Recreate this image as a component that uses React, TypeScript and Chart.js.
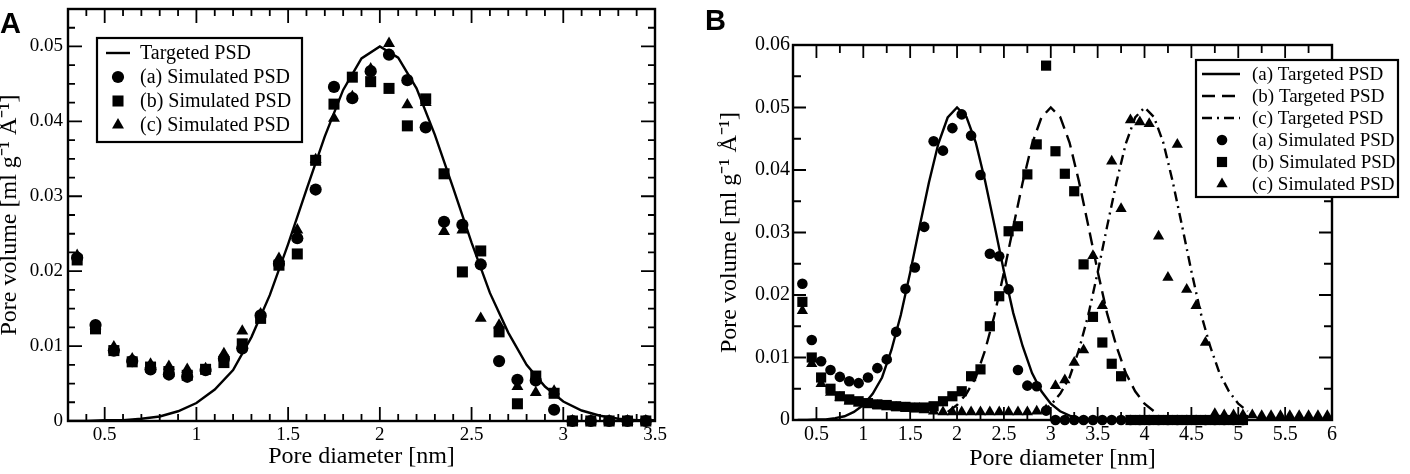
import React, { useEffect, useRef } from "react";
import { Chart, registerables } from "chart.js";

Chart.register(...registerables);

const SERIF = '"Liberation Serif", "Times New Roman", Times, serif';
const SANS = '"Liberation Sans", Arial, Helvetica, sans-serif';

// ---------- Panel A: one targeted PSD, three simulated PSDs ----------
const poreA = [
  0.35, 0.45, 0.55, 0.65, 0.75, 0.85, 0.95, 1.05, 1.15, 1.25, 1.35, 1.45, 1.55, 1.65, 1.75, 1.85,
  1.95, 2.05, 2.15, 2.25, 2.35, 2.45, 2.55, 2.65, 2.75, 2.85, 2.95, 3.05, 3.15, 3.25, 3.35, 3.45,
];
const simA_a = [
  0.0218, 0.0128, 0.0094, 0.008, 0.0069, 0.0062, 0.0059, 0.0068, 0.0083, 0.0097, 0.0141, 0.021,
  0.0244, 0.0309, 0.0446, 0.0431, 0.0467, 0.0489, 0.0455, 0.0392, 0.0266, 0.0262, 0.0209, 0.008,
  0.0055, 0.0054, 0.0015, 0, 0, 0, 0, 0,
];
const simA_b = [
  0.0215, 0.0123, 0.0094, 0.0079, 0.0072, 0.0066, 0.0061, 0.0069, 0.0078, 0.0103, 0.0137, 0.0208,
  0.0223, 0.0348, 0.0423, 0.0459, 0.0453, 0.0444, 0.0394, 0.043, 0.033, 0.0199, 0.0227, 0.0119,
  0.0023, 0.006, 0.0037, 0, 0, 0, 0, 0,
];
const simA_c = [
  0.0221, 0.0127, 0.0099, 0.0083, 0.0076, 0.0073, 0.0069, 0.007, 0.009, 0.012, 0.0143, 0.0217,
  0.0255, 0.0349, 0.0404, 0.0433, 0.047, 0.0504, 0.0422, 0.0425, 0.0253, 0.0255, 0.0137, 0.0128,
  0.0046, 0.0038, 0.004, 0, 0, 0, 0, 0,
];
const targetA_x = [
  0.3, 0.4, 0.5, 0.6, 0.7, 0.8, 0.9, 1.0, 1.1, 1.2, 1.3, 1.4, 1.5, 1.6, 1.7, 1.8, 1.9, 2.0, 2.1,
  2.2, 2.3, 2.4, 2.5, 2.6, 2.7, 2.8, 2.9, 3.0, 3.1, 3.2, 3.3, 3.4, 3.5,
];
const targetA_y = [
  0, 0, 0.0001, 0.0001, 0.0003, 0.0006, 0.0013, 0.0024, 0.0042, 0.0068, 0.0112, 0.0168, 0.0236,
  0.0309, 0.038, 0.0442, 0.0484, 0.05, 0.0485, 0.0444, 0.0382, 0.0311, 0.0238, 0.0171, 0.0118,
  0.0075, 0.0046, 0.0026, 0.0014, 0.0007, 0.0003, 0.0001, 0.0001,
];
const xTicksA = [0.5, 1, 1.5, 2, 2.5, 3, 3.5];
const yTicksA = [0, 0.01, 0.02, 0.03, 0.04, 0.05];

// ---------- Panel B: three targeted PSDs with their simulations ----------
const poreB = [
  0.35, 0.45, 0.55, 0.65, 0.75, 0.85, 0.95, 1.05, 1.15, 1.25, 1.35, 1.45, 1.55, 1.65, 1.75, 1.85,
  1.95, 2.05, 2.15, 2.25, 2.35, 2.45, 2.55, 2.65, 2.75, 2.85, 2.95, 3.05, 3.15, 3.25, 3.35, 3.45,
  3.55, 3.65, 3.75, 3.85, 3.95, 4.05, 4.15, 4.25, 4.35, 4.45, 4.55, 4.65, 4.75, 4.85, 4.95, 5.05,
];
const simB_a = [
  0.0218, 0.0128, 0.0094, 0.008, 0.0069, 0.0062, 0.0059, 0.0068, 0.0083, 0.0097, 0.0141, 0.021,
  0.0244, 0.0309, 0.0446, 0.0431, 0.0467, 0.0489, 0.0455, 0.0392, 0.0266, 0.0262, 0.0209, 0.008,
  0.0055, 0.0054, 0.0015, 0, 0, 0, 0, 0, 0, 0, 0, 0, 0, 0, 0, 0, 0, 0, 0, 0, 0, 0, 0, 0,
];
const simB_b = [
  0.0189, 0.01, 0.0068, 0.005, 0.0038, 0.0033, 0.003, 0.0027, 0.0025, 0.0024, 0.0022, 0.0021,
  0.002, 0.002, 0.0022, 0.003, 0.0038, 0.0046, 0.007, 0.0081, 0.015, 0.0198, 0.0302, 0.031,
  0.0393, 0.0441, 0.0567, 0.043, 0.0394, 0.0366, 0.0249, 0.0165, 0.0124, 0.009, 0.007, 0, 0, 0,
  0, 0, 0, 0, 0, 0, 0, 0, 0, 0,
];
const poreB_c = [
  0.35, 0.45, 0.55, 0.65, 0.75, 0.85, 0.95, 1.05, 1.15, 1.25, 1.35, 1.45, 1.55, 1.65, 1.75, 1.85,
  1.95, 2.05, 2.15, 2.25, 2.35, 2.45, 2.55, 2.65, 2.75, 2.85, 2.95, 3.05, 3.15, 3.25, 3.35, 3.45,
  3.55, 3.65, 3.75, 3.85, 3.95, 4.05, 4.15, 4.25, 4.35, 4.45, 4.55, 4.65, 4.75, 4.85, 4.95, 5.05,
  5.15, 5.25, 5.35, 5.45, 5.55, 5.65, 5.75, 5.85, 5.95,
];
const simB_c = [
  0.0175, 0.009, 0.0058, 0.0044, 0.0036, 0.003, 0.0027, 0.0025, 0.0023, 0.0021, 0.002, 0.0019,
  0.0018, 0.0016, 0.0014, 0.0013, 0.0013, 0.0013, 0.0013, 0.0013, 0.0013, 0.0013, 0.0013, 0.0013,
  0.0013, 0.0014, 0.0016, 0.0055, 0.0064, 0.0092, 0.0112, 0.0263, 0.0183, 0.0414, 0.0338, 0.048,
  0.0477, 0.0474, 0.0294, 0.0228, 0.0441, 0.0209, 0.0183, 0.0124, 0.001, 0.0008, 0.0008, 0.0008,
  0.0008, 0.0007, 0.0007, 0.0007, 0.0007, 0.0007, 0.0007, 0.0007, 0.0007,
];
const targetB_a_x = [
  0.3, 0.4, 0.5, 0.6, 0.7, 0.8, 0.9, 1.0, 1.1, 1.2, 1.3, 1.4, 1.5, 1.6, 1.7, 1.8, 1.9, 2.0, 2.1,
  2.2, 2.3, 2.4, 2.5, 2.6, 2.7, 2.8, 2.9, 3.0, 3.1, 3.2, 3.3, 3.4, 3.5,
];
const targetB_a_y = [
  0, 0, 0.0001, 0.0001, 0.0003, 0.0006, 0.0013, 0.0024, 0.0042, 0.0068, 0.0112, 0.0168, 0.0236,
  0.0309, 0.038, 0.0442, 0.0484, 0.05, 0.0485, 0.0444, 0.0382, 0.0311, 0.0238, 0.0171, 0.0118,
  0.0075, 0.0046, 0.0026, 0.0014, 0.0007, 0.0003, 0.0001, 0.0001,
];
const targetB_b_x = [
  1.9, 2.0, 2.1, 2.2, 2.3, 2.4, 2.5, 2.6, 2.7, 2.8, 2.9, 3.0, 3.1, 3.2, 3.3, 3.4, 3.5, 3.6, 3.7,
  3.8, 3.9, 4.0, 4.1,
];
const targetB_b_y = [
  0.0013, 0.0024, 0.0042, 0.0068, 0.0112, 0.0168, 0.0236, 0.0309, 0.038, 0.0442, 0.0484, 0.05,
  0.0485, 0.0444, 0.0382, 0.0311, 0.0238, 0.0171, 0.0118, 0.0075, 0.0046, 0.0026, 0.0014,
];
const targetB_c_x = [
  2.9, 3.0, 3.1, 3.2, 3.3, 3.4, 3.5, 3.6, 3.7, 3.8, 3.9, 4.0, 4.1, 4.2, 4.3, 4.4, 4.5, 4.6, 4.7,
  4.8, 4.9, 5.0, 5.1,
];
const targetB_c_y = [
  0.0013, 0.0024, 0.0042, 0.0068, 0.0112, 0.0168, 0.0236, 0.0309, 0.038, 0.0442, 0.0484, 0.05,
  0.0485, 0.0444, 0.0382, 0.0311, 0.0238, 0.0171, 0.0118, 0.0075, 0.0046, 0.0026, 0.0014,
];
const xTicksB = [0.5, 1, 1.5, 2, 2.5, 3, 3.5, 4, 4.5, 5, 5.5, 6];
const yTicksB = [0, 0.01, 0.02, 0.03, 0.04, 0.05, 0.06];

const X_TITLE = "Pore diameter [nm]";
const Y_TITLE = "Pore volume [ml g\u207B\u00B9 \u00C5\u207B\u00B9]";

const pts = (xs: number[], ys: number[]) => xs.map((x, i) => ({ x, y: ys[i] }));
const fmt = (v: number | string) => String(parseFloat(Number(v).toFixed(4)));

function drawMarker(ctx: CanvasRenderingContext2D, style: string, x: number, y: number, r: number) {
  ctx.beginPath();
  if (style === "rect") {
    const s = Math.SQRT1_2 * r;
    ctx.rect(x - s, y - s, 2 * s, 2 * s);
  } else if (style === "triangle") {
    const a = (2 * Math.PI) / 3;
    ctx.moveTo(x, y - r);
    ctx.lineTo(x + Math.sin(a) * r, y - Math.cos(a) * r);
    ctx.lineTo(x + Math.sin(2 * a) * r, y - Math.cos(2 * a) * r);
    ctx.closePath();
  } else {
    ctx.arc(x, y, r, 0, Math.PI * 2);
  }
  ctx.fill();
}

// Closed frame with inward major/minor ticks on all four sides
function boxTicks(o: { xMinor: number; yMinor: number; major: number; minor: number; frame: number; tick: number }) {
  return {
    id: "boxTicks",
    afterDraw(chart: any) {
      const { ctx, chartArea } = chart;
      const { left, right, top, bottom } = chartArea;
      const xs = chart.scales.x;
      const ys = chart.scales.y;
      const mx = xs.ticks.map((t: any) => t.value);
      const my = ys.ticks.map((t: any) => t.value);
      const isMajor = (v: number, arr: number[]) => arr.some((m) => Math.abs(m - v) < 1e-7);
      ctx.save();
      ctx.strokeStyle = "#000";
      ctx.lineWidth = o.tick;
      ctx.beginPath();
      for (let i = Math.ceil(xs.min / o.xMinor - 1e-6); i <= Math.floor(xs.max / o.xMinor + 1e-6); i++) {
        const v = i * o.xMinor;
        const p = xs.getPixelForValue(v);
        if (p <= left + 1 || p >= right - 1) continue;
        const len = isMajor(v, mx) ? o.major : o.minor;
        ctx.moveTo(p, bottom);
        ctx.lineTo(p, bottom - len);
        ctx.moveTo(p, top);
        ctx.lineTo(p, top + len);
      }
      for (let i = Math.ceil(ys.min / o.yMinor - 1e-6); i <= Math.floor(ys.max / o.yMinor + 1e-6); i++) {
        const v = i * o.yMinor;
        const p = ys.getPixelForValue(v);
        if (p <= top + 1 || p >= bottom - 1) continue;
        const len = isMajor(v, my) ? o.major : o.minor;
        ctx.moveTo(left, p);
        ctx.lineTo(left + len, p);
        ctx.moveTo(right, p);
        ctx.lineTo(right - len, p);
      }
      ctx.stroke();
      ctx.lineWidth = o.frame;
      ctx.strokeRect(left, top, right - left, bottom - top);
      ctx.restore();
    },
  };
}

// Boxed legend built from the datasets' own styles
function boxLegend(o: {
  box: [number, number, number, number];
  row0: number;
  gap: number;
  line: [number, number];
  mark: number;
  text: number;
  size: number;
}) {
  return {
    id: "boxLegend",
    afterDraw(chart: any) {
      const ctx: CanvasRenderingContext2D = chart.ctx;
      const [bx, by, bw, bh] = o.box;
      ctx.save();
      ctx.fillStyle = "#fff";
      ctx.fillRect(bx, by, bw, bh);
      ctx.strokeStyle = "#000";
      ctx.lineWidth = 2.2;
      ctx.strokeRect(bx, by, bw, bh);
      chart.data.datasets.forEach((ds: any, i: number) => {
        const y = o.row0 + i * o.gap;
        ctx.fillStyle = "#000";
        if (ds.showLine) {
          ctx.setLineDash(ds.borderDash || []);
          ctx.lineWidth = ds.borderWidth;
          ctx.beginPath();
          ctx.moveTo(o.line[0], y);
          ctx.lineTo(o.line[1], y);
          ctx.stroke();
          ctx.setLineDash([]);
        } else {
          drawMarker(ctx, ds.pointStyle, o.mark, y, ds.pointRadius);
        }
        ctx.font = `${o.size}px ${SERIF}`;
        ctx.textBaseline = "middle";
        ctx.textAlign = "left";
        ctx.fillText(ds.label, o.text, y + 1);
      });
      ctx.restore();
    },
  };
}

function panelLetter(text: string, x: number, y: number) {
  return {
    id: "panelLetter",
    afterDraw(chart: any) {
      const ctx: CanvasRenderingContext2D = chart.ctx;
      ctx.save();
      ctx.fillStyle = "#000";
      ctx.font = `bold 29px ${SANS}`;
      ctx.textBaseline = "alphabetic";
      ctx.fillText(text, x, y);
      ctx.restore();
    },
  };
}

function axis(o: {
  min: number;
  max: number;
  ticks: number[];
  size: number;
  pad: number;
  fitSize: number;
  horizontal: boolean;
  title: string;
  titlePad: { top: number; bottom: number };
}) {
  return {
    type: "linear",
    min: o.min,
    max: o.max,
    grid: { display: false, drawTicks: false },
    border: { display: false },
    ticks: {
      color: "#000",
      font: { family: SERIF, size: o.size },
      padding: o.pad,
      autoSkip: false,
      maxRotation: 0,
      callback: (v: number) => fmt(v),
    },
    afterBuildTicks: (s: any) => {
      s.ticks = o.ticks.map((v) => ({ value: v }));
    },
    afterFit: (s: any) => {
      if (o.horizontal) s.height = o.fitSize;
      else s.width = o.fitSize;
      s.paddingLeft = 0;
      s.paddingRight = 0;
      s.paddingTop = 0;
      s.paddingBottom = 0;
    },
    title: {
      display: true,
      text: o.title,
      color: "#000",
      font: { family: SERIF, size: 24, lineHeight: 1 },
      padding: o.titlePad,
    },
  };
}

function line(label: string, xs: number[], ys: number[], dash: number[]) {
  return {
    label,
    data: pts(xs, ys),
    showLine: true,
    borderColor: "#000",
    backgroundColor: "#000",
    borderWidth: 2.4,
    borderDash: dash,
    pointRadius: 0,
    tension: 0,
    order: 10,
  };
}

function marks(label: string, xs: number[], ys: number[], style: string, r: number) {
  return {
    label,
    data: pts(xs, ys),
    pointStyle: style,
    pointRadius: r,
    backgroundColor: "#000",
    borderColor: "#000",
    borderWidth: 0,
    clip: false,
    order: 0,
  };
}

function configA(): any {
  return {
    type: "scatter",
    data: {
      datasets: [
        line("Targeted PSD", targetA_x, targetA_y, []),
        marks("(a) Simulated PSD", poreA, simA_a, "circle", 6.1),
        marks("(b) Simulated PSD", poreA, simA_b, "rect", 7.8),
        marks("(c) Simulated PSD", poreA, simA_c, "triangle", 6.9),
      ],
    },
    options: {
      animation: false,
      responsive: false,
      devicePixelRatio: 1,
      events: [],
      layout: { padding: { left: 0, top: 9, right: 45, bottom: 0 } },
      plugins: { legend: { display: false }, tooltip: { enabled: false } },
      scales: {
        x: axis({ min: 0.3, max: 3.5, ticks: xTicksA, size: 19, pad: 3, fitSize: 53, horizontal: true, title: X_TITLE, titlePad: { top: 0, bottom: 5 } }),
        y: axis({ min: 0, max: 0.055, ticks: yTicksA, size: 19, pad: 5, fitSize: 68, horizontal: false, title: Y_TITLE, titlePad: { top: -2, bottom: 0 } }),
      },
    },
    plugins: [
      boxTicks({ xMinor: 0.1, yMinor: 0.0025, major: 14, minor: 7, frame: 2.4, tick: 1.8 }),
      boxLegend({ box: [97, 38, 205, 104], row0: 53, gap: 24, line: [106, 130], mark: 118, text: 140, size: 20 }),
      panelLetter("A", 0, 33),
    ],
  };
}

function configB(): any {
  return {
    type: "scatter",
    data: {
      datasets: [
        line("(a) Targeted PSD", targetB_a_x, targetB_a_y, []),
        line("(b) Targeted PSD", targetB_b_x, targetB_b_y, [13, 7]),
        line("(c) Targeted PSD", targetB_c_x, targetB_c_y, [10, 5, 2, 5]),
        marks("(a) Simulated PSD", poreB, simB_a, "circle", 5.3),
        marks("(b) Simulated PSD", poreB, simB_b, "rect", 7.2),
        marks("(c) Simulated PSD", poreB_c, simB_c, "triangle", 6.5),
      ],
    },
    options: {
      animation: false,
      responsive: false,
      devicePixelRatio: 1,
      events: [],
      layout: { padding: { left: 0, top: 45, right: 78, bottom: 0 } },
      plugins: { legend: { display: false }, tooltip: { enabled: false } },
      scales: {
        x: axis({ min: 0.25, max: 6, ticks: xTicksB, size: 20, pad: 3, fitSize: 54, horizontal: true, title: X_TITLE, titlePad: { top: 0, bottom: 3 } }),
        y: axis({ min: 0, max: 0.06, ticks: yTicksB, size: 20, pad: 3, fitSize: 93, horizontal: false, title: Y_TITLE, titlePad: { top: 18, bottom: 0 } }),
      },
    },
    plugins: [
      boxTicks({ xMinor: 0.25, yMinor: 0.005, major: 13, minor: 8, frame: 2.4, tick: 1.8 }),
      boxLegend({ box: [496, 60, 202, 137], row0: 74, gap: 22, line: [502, 540], mark: 522, text: 552, size: 19 }),
      panelLetter("B", 5, 30),
    ],
  };
}

function ChartCanvas({ make, left, width }: { make: () => any; left: number; width: number }) {
  const ref = useRef<HTMLCanvasElement>(null);
  useEffect(() => {
    const chart = new Chart(ref.current as HTMLCanvasElement, make());
    return () => chart.destroy();
  }, [make]);
  return (
    <canvas
      ref={ref}
      width={width}
      height={474}
      style={{ position: "absolute", left, top: 0, width, height: 474, display: "block" }}
    />
  );
}

export default function App() {
  return (
    <div style={{ position: "absolute", left: 0, top: 0, width: 1410, height: 474, background: "#fff", overflow: "hidden" }}>
      <ChartCanvas make={configA} left={0} width={700} />
      <ChartCanvas make={configB} left={700} width={710} />
    </div>
  );
}
